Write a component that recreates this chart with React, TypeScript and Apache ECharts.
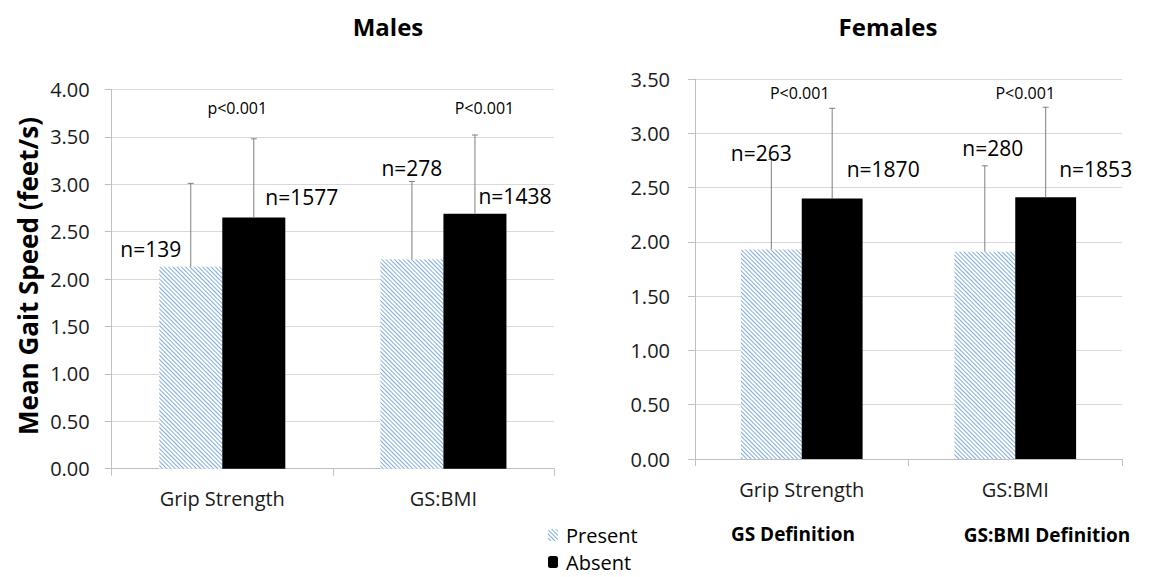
import React, { useEffect, useRef } from "react";
import * as echarts from "echarts";

// ---------- data ----------
const categories = ["Grip Strength", "GS:BMI"];

const maleTicks = [0, 4, 0.5]; // min, max, interval
const malePresent = [2.13, 2.21];
const maleAbsent = [2.65, 2.69];
const malePresentErrTop = [3.01, 3.03];
const maleAbsentErrTop = [3.48, 3.52];
const malePresentN = ["n=139", "n=278"];
const maleAbsentN = ["n=1577", "n=1438"];
const maleP = ["p<0.001", "P<0.001"];

const femaleTicks = [0, 3.5, 0.5];
const femalePresent = [1.93, 1.91];
const femaleAbsent = [2.4, 2.41];
const femalePresentErrTop = [2.76, 2.7];
const femaleAbsentErrTop = [3.23, 3.24];
const femalePresentN = ["n=263", "n=280"];
const femaleAbsentN = ["n=1870", "n=1853"];
const femaleP = ["P<0.001", "P<0.001"];

// ---------- layout (label anchors: px offset from bar centre, height in axis units) ----------
const maleLayout = {
  present: [{ dx: -40, y: 2.32 }, { dx: 0, y: 3.17 }],
  absent: [{ dx: 48, y: 2.87 }, { dx: 40, y: 2.88 }],
  p: [{ dx: 15, y: 3.81 }, { dx: 41, y: 3.81 }],
};
const femaleLayout = {
  present: [{ dx: -10, y: 2.82 }, { dx: 8, y: 2.86 }],
  absent: [{ dx: 51, y: 2.67 }, { dx: 50, y: 2.67 }],
  p: [{ dx: -2, y: 3.37 }, { dx: 10, y: 3.37 }],
};

const FONT = "'Open Sans', 'Noto Sans', sans-serif";
const BAR_FRAC = 0.285;
const HATCH = "#80ade2";

function errSeries(g, values, tops, side, labels, lay) {
  return {
    type: "custom",
    name: "err" + g + side,
    xAxisIndex: g,
    yAxisIndex: g,
    z: 5,
    silent: true,
    clip: false,
    data: values.map((v, i) => [i, v, tops[i]]),
    renderItem: (params, api) => {
      const i = api.value(0);
      const v = api.value(1);
      const t = api.value(2);
      const band = api.size([1, 0])[0];
      const bw = band * BAR_FRAC;
      const base = api.coord([i, v]);
      const x = base[0] + (side * bw) / 2;
      const yTop = api.coord([i, t])[1];
      const l = lay[i];
      const ly = api.coord([i, l.y])[1];
      const ls = { stroke: "#7f7f7f", lineWidth: 1 };
      return {
        type: "group",
        children: [
          { type: "line", shape: { x1: x, y1: base[1], x2: x, y2: yTop }, style: ls },
          { type: "line", shape: { x1: x - 3, y1: yTop, x2: x + 3, y2: yTop }, style: ls },
          {
            type: "text",
            x: x + l.dx,
            y: ly,
            style: {
              text: labels[i],
              fill: "#000",
              fontSize: 21,
              fontFamily: FONT,
              align: "center",
              verticalAlign: "middle",
            },
          },
        ],
      };
    },
  };
}

function pSeries(g, texts, lay) {
  return {
    type: "custom",
    name: "p" + g,
    xAxisIndex: g,
    yAxisIndex: g,
    z: 5,
    silent: true,
    clip: false,
    data: texts.map((_, i) => [i, lay[i].y]),
    renderItem: (params, api) => {
      const i = api.value(0);
      const pt = api.coord([i, api.value(1)]);
      return {
        type: "text",
        x: pt[0] + lay[i].dx,
        y: pt[1],
        style: {
          text: texts[i],
          fill: "#000",
          fontSize: 16,
          fontFamily: FONT,
          align: "center",
          verticalAlign: "middle",
        },
      };
    },
  };
}

const axisColor = "#bfbfbf";

function xAx(g) {
  return {
    type: "category",
    gridIndex: g,
    data: categories,
    axisLine: { lineStyle: { color: axisColor } },
    axisTick: { show: true, length: 7, lineStyle: { color: axisColor } },
    axisLabel: { fontSize: 20, color: "#1a1a1a", fontFamily: FONT, margin: 20 },
  };
}
function yAx(g, ticks, margin) {
  return {
    type: "value",
    gridIndex: g,
    min: ticks[0],
    max: ticks[1],
    interval: ticks[2],
    axisLine: { show: true, lineStyle: { color: axisColor } },
    axisTick: { show: true, length: 7, lineStyle: { color: axisColor } },
    axisLabel: {
      fontSize: 20,
      color: "#1a1a1a",
      fontFamily: FONT,
      margin,
      formatter: (v) => v.toFixed(2),
    },
    splitLine: { lineStyle: { color: "#d9d9d9" } },
  };
}

const presentStyle = {
  color: "#ffffff",
  decal: {
    symbol: "rect",
    symbolSize: 1,
    color: HATCH,
    dashArrayX: [1, 0],
    dashArrayY: [1, 2],
    rotation: Math.PI / 4,
  },
};
const absentStyle = { color: "#000000" };

function bar(g, name, data, style) {
  return {
    type: "bar",
    name,
    xAxisIndex: g,
    yAxisIndex: g,
    data,
    barWidth: BAR_FRAC * 100 + "%",
    barGap: "0%",
    itemStyle: style,
    silent: true,
  };
}

function legendItem(name, top) {
  return {
    orient: "vertical",
    left: 548,
    top,
    padding: 0,
    itemWidth: 10,
    itemHeight: 12,
    selectedMode: false,
    data: [name],
    textStyle: { fontSize: 20, color: "#000", fontFamily: FONT, padding: [0, 0, 0, 3] },
  };
}

export default function App() {
  const ref = useRef(null);
  useEffect(() => {
    const chart = echarts.init(ref.current, null, { renderer: "svg" });
    chart.setOption({
      animation: false,
      backgroundColor: "#ffffff",
      textStyle: { fontFamily: FONT },
      grid: [
        { left: 111.7, top: 89.5, width: 442.3, height: 379.2 },
        { left: 695, top: 79, width: 427, height: 380 },
      ],
      xAxis: [xAx(0), xAx(1)],
      yAxis: [yAx(0, maleTicks, 22), yAx(1, femaleTicks, 25)],
      legend: [legendItem("Present", 525), legendItem("Absent", 552)],
      graphic: [
        {
          type: "text",
          x: 388,
          y: 26,
          style: { text: "Males", fontSize: 24, fontWeight: "bold", fontFamily: FONT, fill: "#000", align: "center", verticalAlign: "middle" },
        },
        {
          type: "text",
          x: 888,
          y: 26,
          style: { text: "Females", fontSize: 24, fontWeight: "bold", fontFamily: FONT, fill: "#000", align: "center", verticalAlign: "middle" },
        },
        {
          type: "text",
          x: 28,
          y: 276,
          rotation: Math.PI / 2,
          style: { text: "Mean Gait Speed (feet/s)", fontSize: 26, fontWeight: "bold", fontFamily: FONT, fill: "#000", align: "center", verticalAlign: "middle" },
        },
        {
          type: "text",
          x: 793,
          y: 534,
          style: { text: "GS Definition", fontSize: 19, fontWeight: "bold", fontFamily: FONT, fill: "#000", align: "center", verticalAlign: "middle" },
        },
        {
          type: "text",
          x: 1047,
          y: 535,
          style: { text: "GS:BMI Definition", fontSize: 19, fontWeight: "bold", fontFamily: FONT, fill: "#000", align: "center", verticalAlign: "middle" },
        },
      ],
      series: [
        bar(0, "Present", malePresent, presentStyle),
        bar(0, "Absent", maleAbsent, absentStyle),
        bar(1, "Present", femalePresent, presentStyle),
        bar(1, "Absent", femaleAbsent, absentStyle),
        errSeries(0, malePresent, malePresentErrTop, -1, malePresentN, maleLayout.present),
        errSeries(0, maleAbsent, maleAbsentErrTop, 1, maleAbsentN, maleLayout.absent),
        errSeries(1, femalePresent, femalePresentErrTop, -1, femalePresentN, femaleLayout.present),
        errSeries(1, femaleAbsent, femaleAbsentErrTop, 1, femaleAbsentN, femaleLayout.absent),
        pSeries(0, maleP, maleLayout.p),
        pSeries(1, femaleP, femaleLayout.p),
      ],
    });
    return () => chart.dispose();
  }, []);
  return (
    <div
      ref={ref}
      style={{ position: "absolute", left: 0, top: 0, width: 1149, height: 577 }}
    />
  );
}
